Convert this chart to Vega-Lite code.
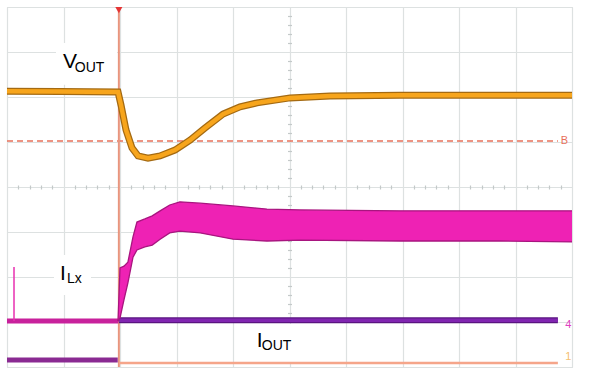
{
  "$schema": "https://vega.github.io/schema/vega-lite/v6.json",
  "width": 565,
  "height": 360,
  "autosize": {"type": "none"},
  "padding": {"left": 7, "top": 7, "right": 19, "bottom": 5},
  "background": "white",
  "config": {"view": {"stroke": "#cfd4d4", "strokeWidth": 1}, "font": "Liberation Sans"},
  "resolve": {"axis": {"x": "independent", "y": "independent"}},
  "datasets": {
    "vout": [
      {"t": 0, "v": 6.13}, {"t": 0.94, "v": 6.12}, {"t": 1.965, "v": 6.11},
      {"t": 2.018, "v": 5.82}, {"t": 2.106, "v": 5.27}, {"t": 2.212, "v": 4.87},
      {"t": 2.319, "v": 4.69}, {"t": 2.496, "v": 4.64}, {"t": 2.708, "v": 4.69},
      {"t": 2.973, "v": 4.82}, {"t": 3.239, "v": 5.04}, {"t": 3.504, "v": 5.31},
      {"t": 3.823, "v": 5.62}, {"t": 4.124, "v": 5.78}, {"t": 4.425, "v": 5.87},
      {"t": 5.009, "v": 5.98}, {"t": 5.717, "v": 6.02}, {"t": 6.956, "v": 6.04},
      {"t": 8.372, "v": 6.04}, {"t": 10, "v": 6.04}
    ],
    "ilx": [
      {"t": 1.965, "lo": 1.02, "hi": 1.02}, {"t": 2.0, "lo": 1.09, "hi": 2.2},
      {"t": 2.07, "lo": 1.49, "hi": 2.24}, {"t": 2.14, "lo": 1.87, "hi": 2.33},
      {"t": 2.23, "lo": 2.44, "hi": 2.89}, {"t": 2.30, "lo": 2.6, "hi": 3.22},
      {"t": 2.44, "lo": 2.67, "hi": 3.29}, {"t": 2.57, "lo": 2.71, "hi": 3.36},
      {"t": 2.71, "lo": 2.84, "hi": 3.47}, {"t": 2.88, "lo": 2.98, "hi": 3.6},
      {"t": 3.06, "lo": 3.02, "hi": 3.67}, {"t": 3.42, "lo": 2.98, "hi": 3.64},
      {"t": 4.0, "lo": 2.84, "hi": 3.58}, {"t": 4.6, "lo": 2.8, "hi": 3.51},
      {"t": 5.19, "lo": 2.82, "hi": 3.49}, {"t": 6.96, "lo": 2.8, "hi": 3.47},
      {"t": 8.73, "lo": 2.8, "hi": 3.47}, {"t": 10, "lo": 2.78, "hi": 3.47}
    ],
    "boxes": [
      {"x0": 0.867, "x1": 1.947, "y0": 7.2, "y1": 6.27},
      {"x0": 0.832, "x1": 1.487, "y0": 2.49, "y1": 1.6},
      {"x0": 4.3, "x1": 5.2, "y0": 0.956, "y1": 0.11}
    ],
    "bigtext": [
      {"t": 0.99, "v": 6.64, "s": "V"},
      {"t": 0.94, "v": 1.93, "s": "I"},
      {"t": 4.42, "v": 0.444, "s": "I"}
    ],
    "subtext": [
      {"t": 1.2, "v": 6.56, "s": "OUT"},
      {"t": 1.06, "v": 1.87, "s": "Lx"},
      {"t": 4.51, "v": 0.378, "s": "OUT"}
    ]
  },
  "layer": [
    {
      "data": {"values": [{"t": 0, "v": 0}]},
      "mark": {"type": "point", "opacity": 0},
      "encoding": {
        "x": {"field": "t", "type": "quantitative", "scale": {"domain": [0, 10], "nice": false, "zero": false},
          "axis": {"values": [0,1,2,3,4,5,6,7,8,9,10], "grid": true, "gridColor": "#dde1e1", "gridWidth": 1.2, "ticks": false, "labels": false, "domain": false, "title": null}},
        "y": {"field": "v", "type": "quantitative", "scale": {"domain": [0, 8], "nice": false, "zero": false},
          "axis": {"values": [0,1,2,3,4,5,6,7,8], "grid": true, "gridColor": "#dde1e1", "gridWidth": 1.2, "ticks": false, "labels": false, "domain": false, "title": null}}
      }
    },
    {
      "data": {"values": [{"t": 0, "v": 0}]},
      "mark": {"type": "point", "opacity": 0},
      "encoding": {
        "x": {"field": "t", "type": "quantitative",
          "axis": {"orient": "top", "offset": -182, "values": [0.2,0.4,0.6,0.8,1.2,1.4,1.6,1.8,2.2,2.4,2.6,2.8,3.2,3.4,3.6,3.8,4.2,4.4,4.6,4.8,5.2,5.4,5.6,5.8,6.2,6.4,6.6,6.8,7.2,7.4,7.6,7.8,8.2,8.4,8.6,8.8,9.2,9.4,9.6,9.8], "tickSize": 4, "tickColor": "#c4c9c9", "tickWidth": 1.2, "labels": false, "domain": false, "grid": false, "title": null}},
        "y": {"field": "v", "type": "quantitative",
          "axis": {"orient": "left", "offset": -284.5, "values": [0.2,0.4,0.6,0.8,1.2,1.4,1.6,1.8,2.2,2.4,2.6,2.8,3.2,3.4,3.6,3.8,4.2,4.4,4.6,4.8,5.2,5.4,5.6,5.8,6.2,6.4,6.6,6.8,7.2,7.4,7.6,7.8], "tickSize": 4, "tickColor": "#c4c9c9", "tickWidth": 1.2, "labels": false, "domain": false, "grid": false, "title": null}}
      }
    },
    {
      "data": {"name": "boxes"},
      "mark": {"type": "rect", "color": "white"},
      "encoding": {
        "x": {"field": "x0", "type": "quantitative", "axis": null},
        "x2": {"field": "x1"},
        "y": {"field": "y0", "type": "quantitative", "axis": null},
        "y2": {"field": "y1"}
      }
    },
    {
      "data": {"values": [{"t0": 0, "t1": 9.75, "v": 5.02}]},
      "mark": {"type": "rule", "color": "#e8705a", "strokeWidth": 1.5, "strokeDash": [6, 4]},
      "encoding": {
        "x": {"field": "t0", "type": "quantitative", "axis": null},
        "x2": {"field": "t1"},
        "y": {"field": "v", "type": "quantitative", "axis": null}
      }
    },
    {
      "data": {"values": [{"t": 1.98}]},
      "mark": {"type": "rule", "color": "#e8957e", "strokeWidth": 2},
      "encoding": {"x": {"field": "t", "type": "quantitative", "axis": null}}
    },
    {
      "data": {"values": [{"t0": 1.98, "t1": 9.75, "v": 0.089}]},
      "mark": {"type": "rule", "color": "#f5a58a", "strokeWidth": 2.5},
      "encoding": {
        "x": {"field": "t0", "type": "quantitative", "axis": null},
        "x2": {"field": "t1"},
        "y": {"field": "v", "type": "quantitative", "axis": null}
      }
    },
    {
      "data": {"values": [{"t0": 0, "t1": 1.96, "v": 0.156}]},
      "mark": {"type": "rule", "color": "#8a2a92", "strokeWidth": 5},
      "encoding": {
        "x": {"field": "t0", "type": "quantitative", "axis": null},
        "x2": {"field": "t1"},
        "y": {"field": "v", "type": "quantitative", "axis": null}
      }
    },
    {
      "data": {"values": [{"t0": 0, "t1": 1.97, "v": 1.02}]},
      "mark": {"type": "rule", "color": "#c8219c", "strokeWidth": 5},
      "encoding": {
        "x": {"field": "t0", "type": "quantitative", "axis": null},
        "x2": {"field": "t1"},
        "y": {"field": "v", "type": "quantitative", "axis": null}
      }
    },
    {
      "data": {"values": [{"t": 0.124, "v0": 1.02, "v1": 2.22}]},
      "mark": {"type": "rule", "color": "#e830b0", "strokeWidth": 1.5},
      "encoding": {
        "x": {"field": "t", "type": "quantitative", "axis": null},
        "y": {"field": "v0", "type": "quantitative", "axis": null},
        "y2": {"field": "v1"}
      }
    },
    {
      "data": {"values": [{"t0": 1.98, "t1": 9.75, "v": 1.04}]},
      "mark": {"type": "rule", "color": "#5a1480", "strokeWidth": 6},
      "encoding": {
        "x": {"field": "t0", "type": "quantitative", "axis": null},
        "x2": {"field": "t1"},
        "y": {"field": "v", "type": "quantitative", "axis": null}
      }
    },
    {
      "data": {"values": [{"t0": 1.98, "t1": 9.75, "v": 1.04}]},
      "mark": {"type": "rule", "color": "#8025b0", "strokeWidth": 3.5},
      "encoding": {
        "x": {"field": "t0", "type": "quantitative", "axis": null},
        "x2": {"field": "t1"},
        "y": {"field": "v", "type": "quantitative", "axis": null}
      }
    },
    {
      "data": {"name": "ilx"},
      "mark": {"type": "area", "color": "#ee22b4", "opacity": 1},
      "encoding": {
        "x": {"field": "t", "type": "quantitative", "axis": null},
        "y": {"field": "hi", "type": "quantitative", "axis": null},
        "y2": {"field": "lo"}
      }
    },
    {
      "data": {"name": "ilx"},
      "mark": {"type": "line", "color": "#a8157f", "strokeWidth": 1.3},
      "encoding": {
        "x": {"field": "t", "type": "quantitative", "axis": null},
        "y": {"field": "hi", "type": "quantitative", "axis": null}
      }
    },
    {
      "data": {"name": "ilx"},
      "mark": {"type": "line", "color": "#a8157f", "strokeWidth": 1.3},
      "encoding": {
        "x": {"field": "t", "type": "quantitative", "axis": null},
        "y": {"field": "lo", "type": "quantitative", "axis": null}
      }
    },
    {
      "data": {"name": "vout"},
      "mark": {"type": "line", "color": "#a46a12", "strokeWidth": 7},
      "encoding": {
        "x": {"field": "t", "type": "quantitative", "axis": null},
        "y": {"field": "v", "type": "quantitative", "axis": null}
      }
    },
    {
      "data": {"name": "vout"},
      "mark": {"type": "line", "color": "#f7a51c", "strokeWidth": 4.5},
      "encoding": {
        "x": {"field": "t", "type": "quantitative", "axis": null},
        "y": {"field": "v", "type": "quantitative", "axis": null}
      }
    },
    {
      "data": {"name": "bigtext"},
      "mark": {"type": "text", "align": "left", "baseline": "alphabetic", "fontSize": 21, "color": "black", "font": "Liberation Sans"},
      "encoding": {
        "x": {"field": "t", "type": "quantitative", "axis": null},
        "y": {"field": "v", "type": "quantitative", "axis": null},
        "text": {"field": "s"}
      }
    },
    {
      "data": {"name": "subtext"},
      "mark": {"type": "text", "align": "left", "baseline": "alphabetic", "fontSize": 14, "color": "black", "font": "Liberation Sans"},
      "encoding": {
        "x": {"field": "t", "type": "quantitative", "axis": null},
        "y": {"field": "v", "type": "quantitative", "axis": null},
        "text": {"field": "s"}
      }
    },
    {
      "data": {"values": [{"t": 9.88, "v": 0.93, "s": "4", "c": "#e040c0"}, {"t": 9.88, "v": 0.22, "s": "1", "c": "#f5c070"}, {"t": 9.8, "v": 5.02, "s": "B", "c": "#e8705a"}]},
      "mark": {"type": "text", "align": "left", "baseline": "middle", "fontSize": 11},
      "encoding": {
        "x": {"field": "t", "type": "quantitative", "axis": null},
        "y": {"field": "v", "type": "quantitative", "axis": null},
        "text": {"field": "s"},
        "color": {"field": "c", "type": "nominal", "scale": null}
      }
    },
    {
      "data": {"values": [{"t": 1.98, "v": 7.93}]},
      "mark": {"type": "point", "shape": "triangle-down", "filled": true, "size": 50, "color": "#e53535", "opacity": 1},
      "encoding": {
        "x": {"field": "t", "type": "quantitative", "axis": null},
        "y": {"field": "v", "type": "quantitative", "axis": null}
      }
    }
  ]
}
